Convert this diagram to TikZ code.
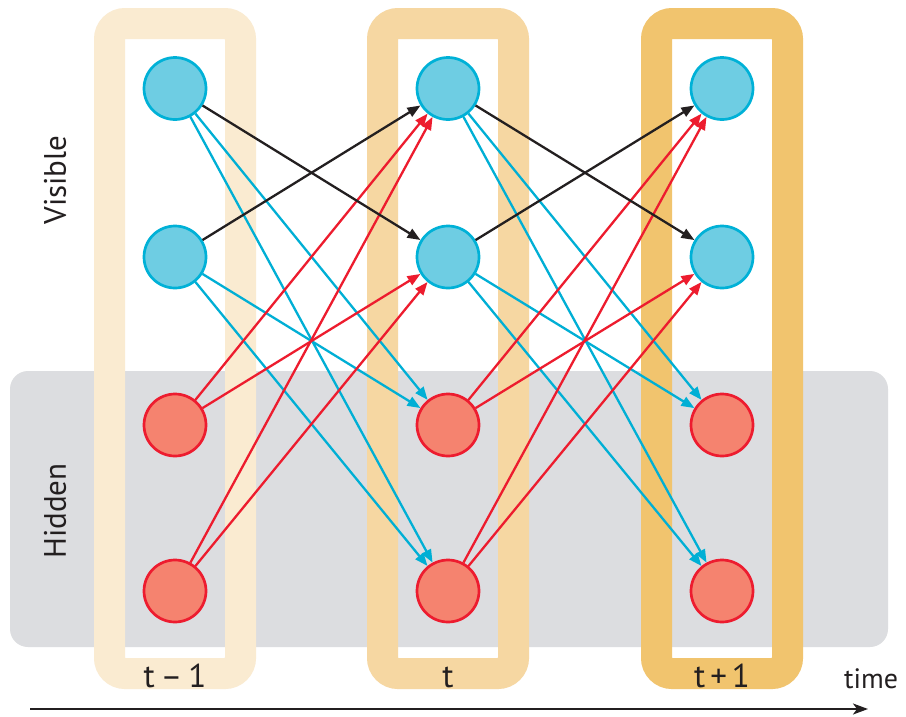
\documentclass[tikz,border=0pt]{standalone}
\usepackage{fontspec}
\setmainfont{PT Sans}
\usetikzlibrary{arrows.meta}
\definecolor{fr1}{HTML}{FAEBD1}
\definecolor{fr2}{HTML}{F6D7A2}
\definecolor{fr3}{HTML}{F1C46E}
\definecolor{bandc}{HTML}{DCDDE0}
\definecolor{vfill}{HTML}{6ECDE3}
\definecolor{vdraw}{HTML}{00B1D7}
\definecolor{hfill}{HTML}{F5836F}
\definecolor{hdraw}{HTML}{ED1C2F}
\definecolor{eblue}{HTML}{00AFD5}
\definecolor{ered}{HTML}{ED1C2E}
\definecolor{eblack}{HTML}{231F20}
\definecolor{txt}{HTML}{231F20}
\begin{document}
\begin{tikzpicture}[x=1pt,y=-1pt,
  vis/.style={circle,minimum size=62pt,inner sep=0pt,fill=vfill,draw=vdraw,line width=2.7pt},
  hid/.style={circle,minimum size=62pt,inner sep=0pt,fill=hfill,draw=hdraw,line width=2.7pt},
  edgeline/.style={line width=2.3pt,-{Triangle[length=13pt,width=10pt]}},
  blk/.style={edgeline,eblack},
  blu/.style={edgeline,eblue},
  rdd/.style={edgeline,ered},
  frame/.style={line width=31pt,rounded corners=15.5pt},
  collabel/.style={text=txt,font=\fontsize{33}{36}\selectfont,anchor=base,inner sep=0pt},
  sidelabel/.style={text=txt,font=\fontsize{31}{34}\selectfont,rotate=90,inner sep=0pt}
]
\useasboundingbox (0,0) rectangle (906,716);
\fill[white] (0,0) rectangle (906,716);
% hidden band
\fill[bandc, rounded corners=18pt] (10,371) rectangle (888,647);
% frames
\draw[frame,fr1] (109.5,23.5) rectangle (240.5,673.5);
\draw[frame,fr2] (382.5,23.5) rectangle (513.5,673.5);
\draw[frame,fr3] (656.5,23.5) rectangle (787.5,673.5);
% nodes
\foreach \c/\x in {1/175,2/448,3/722}{
  \node[vis] (v1\c) at (\x,88.5) {};
  \node[vis] (v2\c) at (\x,257) {};
  \node[hid] (h3\c) at (\x,425) {};
  \node[hid] (h4\c) at (\x,591) {};
}
% edges
\foreach \a/\b in {1/2,2/3}{
  \draw[blu] (v1\a) -- (h3\b);
  \draw[blu] (v1\a) -- (h4\b);
  \draw[blu] (v2\a) -- (h3\b);
  \draw[blu] (v2\a) -- (h4\b);
  \draw[rdd] (h3\a) -- (v1\b);
  \draw[rdd] (h3\a) -- (v2\b);
  \draw[rdd] (h4\a) -- (v1\b);
  \draw[rdd] (h4\a) -- (v2\b);
  \draw[blk] (v1\a) -- (v2\b);
  \draw[blk] (v2\a) -- (v1\b);
}
% labels
\node[collabel] (l1) at (175,687) {t\kern6pt–\kern6pt1};
\node[collabel] (l2) at (448,687) {t};
\node[collabel] (l3) at (722,687) {t\kern5pt+\kern5pt1};
\node[text=txt,font=\fontsize{28}{30}\selectfont,anchor=base,inner sep=0pt] (tl) at (871,688) {time};
\node[sidelabel] (vl) at (55,180) {Visible};
\node[sidelabel] (hl) at (55,511) {Hidden};
% time axis
\coordinate (ts) at (30,709);
\coordinate (te) at (868,709);
\draw[line width=1.8pt,txt,-{Stealth[length=15pt,width=11pt,inset=4pt]}] (ts) -- (te);
\end{tikzpicture}
\end{document}
